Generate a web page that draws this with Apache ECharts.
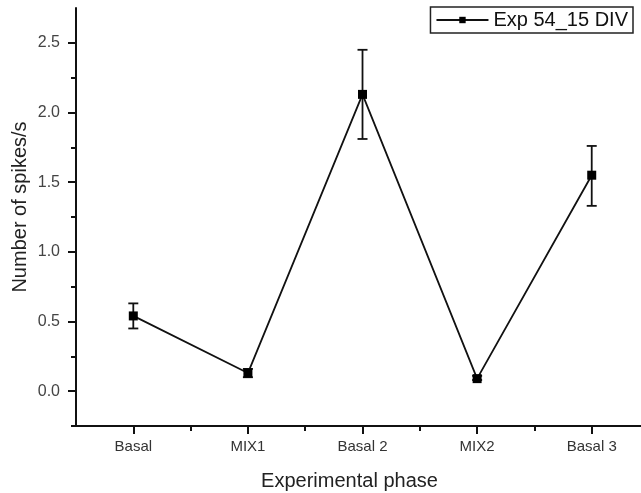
<!DOCTYPE html>
<html>
<head>
<meta charset="utf-8">
<script src="https://cdn.jsdelivr.net/npm/echarts@6/dist/echarts.min.js"></script>
<style>
  html, body { margin: 0; padding: 0; background: #fff; }
  #chart { width: 641px; height: 493px; }
</style>
</head>
<body>
<div id="chart"></div>
<script>
// data
const phases = ['Basal', 'MIX1', 'Basal 2', 'MIX2', 'Basal 3'];
const spikeRate = [0.54, 0.13, 2.13, 0.09, 1.55];
const errLow = [0.45, 0.10, 1.81, 0.08, 1.33];
const errHigh = [0.63, 0.16, 2.45, 0.11, 1.76];
const yMajorTicks = [0, 0.5, 1, 1.5, 2, 2.5];
const yMinorTicks = [-0.25, 0.25, 0.75, 1.25, 1.75, 2.25];
const xMajorTicks = [1, 2, 3, 4, 5];
const xMinorTicks = [1.5, 2.5, 3.5, 4.5];

const FONT = 'Liberation Sans, Arial, sans-serif';
const chart = echarts.init(document.getElementById('chart'));

const points = spikeRate.map((v, i) => [i + 1, v]);
const bars = phases.map((p, i) => [i + 1, errLow[i], errHigh[i]]);

const option = {
  backgroundColor: '#fff',
  animation: false,
  grid: { left: 76, right: 0, top: 8, bottom: 67, outerBoundsMode: 'none' },
  legend: {
    right: 8, top: 7,
    data: ['Exp 54_15 DIV'],
    borderColor: '#222', borderWidth: 1.5,
    padding: [3, 5, 3, 5],
    itemWidth: 52, itemHeight: 8, itemGap: 6,
    textStyle: { fontFamily: FONT, fontSize: 20, color: '#111' }
  },
  xAxis: [{
    type: 'value', min: 0.5, max: 5.43,
    name: 'Experimental phase', nameLocation: 'middle', nameGap: 45,
    nameTextStyle: { fontFamily: FONT, fontSize: 20, color: '#222', padding: [0, 18, 0, 0] },
    axisLine: { onZero: false, lineStyle: { color: '#111', width: 2 } },
    axisTick: { customValues: xMajorTicks, length: 8, lineStyle: { color: '#111', width: 2 } },
    axisLabel: {
      customValues: xMajorTicks, margin: 13,
      fontFamily: FONT, fontSize: 15, color: '#333',
      formatter: v => phases[Math.round(v) - 1] || ''
    },
    splitLine: { show: false }
  }, {
    type: 'value', min: 0.5, max: 5.43, position: 'bottom',
    axisLine: { show: false, onZero: false },
    axisTick: { customValues: xMinorTicks, length: 5, lineStyle: { color: '#111', width: 2 } },
    axisLabel: { show: false },
    splitLine: { show: false }
  }],
  yAxis: [{
    type: 'value', min: -0.25, max: 2.75,
    name: 'Number of spikes/s', nameLocation: 'middle', nameGap: 46, nameMoveOverlap: false,
    nameTextStyle: { fontFamily: FONT, fontSize: 20, color: '#222', padding: [0, 0, 0, 20] },
    axisLine: { show: true, onZero: false, lineStyle: { color: '#111', width: 2 } },
    axisTick: { customValues: yMajorTicks, length: 8, lineStyle: { color: '#111', width: 2 } },
    axisLabel: {
      customValues: yMajorTicks, margin: 16,
      fontFamily: FONT, fontSize: 16, color: '#444',
      formatter: v => v.toFixed(1)
    },
    splitLine: { show: false }
  }, {
    type: 'value', min: -0.25, max: 2.75, position: 'left',
    axisLine: { show: false, onZero: false },
    axisTick: { show: true, customValues: yMinorTicks, length: 5, lineStyle: { color: '#111', width: 2 } },
    axisLabel: { show: false },
    splitLine: { show: false }
  }],
  series: [{
    name: 'Exp 54_15 DIV',
    type: 'line',
    data: points,
    symbol: 'rect', symbolSize: 9,
    itemStyle: { color: '#000' },
    lineStyle: { color: '#111', width: 1.8 },
    z: 3
  }, {
    type: 'custom',
    data: bars,
    z: 2,
    renderItem(params, api) {
      const x = api.value(0);
      const lo = api.coord([x, api.value(1)]);
      const hi = api.coord([x, api.value(2)]);
      const cap = 5;
      const style = { stroke: '#111', lineWidth: 1.8 };
      return {
        type: 'group',
        children: [
          { type: 'line', shape: { x1: lo[0], y1: lo[1], x2: hi[0], y2: hi[1] }, style },
          { type: 'line', shape: { x1: lo[0] - cap, y1: lo[1], x2: lo[0] + cap, y2: lo[1] }, style },
          { type: 'line', shape: { x1: hi[0] - cap, y1: hi[1], x2: hi[0] + cap, y2: hi[1] }, style }
        ]
      };
    }
  }]
};

chart.setOption(option);
</script>
</body>
</html>
